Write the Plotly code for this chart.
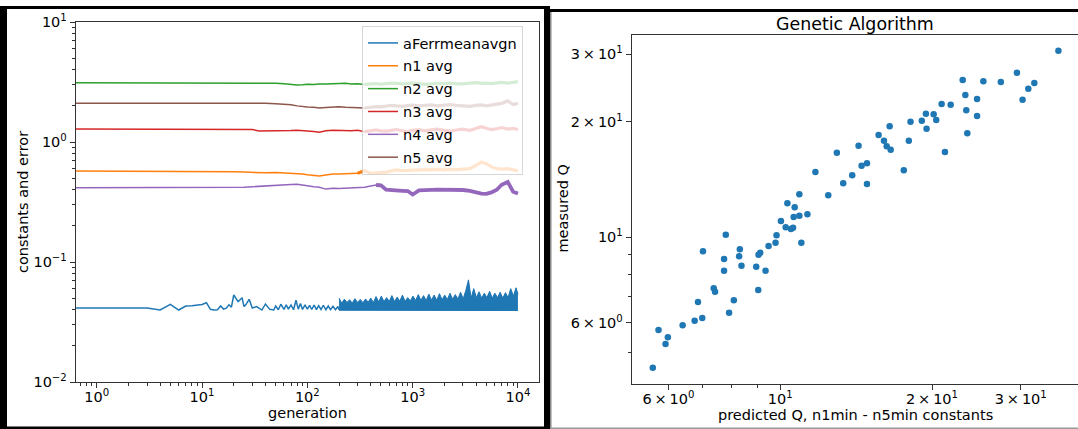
import plotly.graph_objects as go

# ---------------- left panel: constants and error vs generation ----------------
# generation 0 cannot sit on a log axis; 0.5 stands in for it (clipped at the left edge)
gen_err = [0.5, 1, 2, 3, 4, 5, 6, 7, 8, 9,
           10, 11, 12, 13, 14, 15, 16, 17, 18, 19, 20,
           22, 24, 25, 26, 28, 30, 33, 37, 40, 44, 48,
           50, 53, 56, 60, 63, 66, 70, 74, 78, 82, 86, 90, 95,
           100, 105, 110, 116, 122, 128, 135, 142, 150, 158, 166, 175, 185, 195, 200]
err_avg = [0.0414, 0.0414, 0.0414, 0.0414, 0.0398, 0.0444, 0.0398, 0.0430, 0.0432, 0.0435,
           0.0442, 0.0458, 0.0403, 0.0398, 0.0400, 0.0430, 0.0405, 0.0412, 0.0440, 0.0420, 0.0531,
           0.0467, 0.0504, 0.0425, 0.0440, 0.0489, 0.0414, 0.0425, 0.0398, 0.0447, 0.0403, 0.0398,
           0.0430, 0.0400, 0.0445, 0.0402, 0.0440, 0.0405, 0.0438, 0.0400, 0.0480, 0.0405, 0.0450, 0.0402, 0.0440,
           0.0404, 0.0436, 0.0402, 0.0438, 0.0401, 0.0432, 0.0402, 0.0436, 0.0400, 0.0430, 0.0401, 0.0428, 0.0400, 0.0426, 0.0400]

# dense noisy part of the error curve: lower and upper envelope of the band
gen_band = [200, 212, 225, 238, 252, 267, 283, 300, 318, 337,
            357, 378, 400, 424, 449, 476, 504, 534, 566, 600,
            635, 673, 713, 755, 800, 848, 898, 951, 1008, 1068,
            1131, 1198, 1270, 1345, 1425, 1510, 1600, 1695, 1796, 1903,
            2016, 2136, 2263, 2397, 2540, 2691, 2851, 3020, 3200, 3390,
            3592, 3805, 4032, 4271, 4525, 4794, 5079, 5381, 5701, 6040,
            6399, 6780, 7183, 7610, 8062, 8542, 9050, 9588, 10000]
err_hi = [0.0500, 0.0455, 0.0490, 0.0460, 0.0485, 0.0455, 0.0495, 0.0460, 0.0488, 0.0458,
          0.0492, 0.0462, 0.0500, 0.0460, 0.0515, 0.0465, 0.0520, 0.0468, 0.0505, 0.0470,
          0.0525, 0.0468, 0.0510, 0.0472, 0.0530, 0.0470, 0.0505, 0.0475, 0.0520, 0.0478,
          0.0535, 0.0480, 0.0525, 0.0478, 0.0540, 0.0482, 0.0530, 0.0480, 0.0545, 0.0485,
          0.0530, 0.0488, 0.0550, 0.0490, 0.0535, 0.0492, 0.0560, 0.0495, 0.0580, 0.0710,
          0.0500, 0.0600, 0.0505, 0.0565, 0.0500, 0.0550, 0.0505, 0.0570, 0.0500, 0.0550,
          0.0505, 0.0560, 0.0500, 0.0555, 0.0505, 0.0600, 0.0520, 0.0610, 0.0540]
gen_lo = [200, 1000, 3000, 10000]
err_lo = [0.0396, 0.0395, 0.0394, 0.0394]

gen_c = [0.5, 1, 3, 6, 10, 15, 20, 25, 30, 35,
         40, 50, 60, 70, 80, 90, 100, 115, 130, 150,
         175, 200, 230, 260, 300, 350, 400, 450, 500, 560,
         630, 700, 800, 900, 1000, 1150, 1300, 1500, 1700, 2000,
         2300, 2600, 3000, 3500, 4000, 4500, 5000, 5600, 6300, 7000,
         8000, 9000, 10000]
n1_avg = [0.573, 0.573, 0.573, 0.573, 0.573, 0.572, 0.566, 0.562, 0.558, 0.556,
          0.554, 0.556, 0.552, 0.550, 0.548, 0.540, 0.533, 0.524, 0.521, 0.530,
          0.541, 0.540, 0.545, 0.542, 0.548, 0.577, 0.548, 0.550, 0.552, 0.560,
          0.575, 0.585, 0.578, 0.582, 0.586, 0.583, 0.588, 0.585, 0.590, 0.586,
          0.592, 0.588, 0.595, 0.600, 0.640, 0.680, 0.660, 0.620, 0.600, 0.595,
          0.600, 0.585, 0.575]
n2_avg = [3.12, 3.12, 3.12, 3.12, 3.12, 3.12, 3.12, 3.12, 3.11, 3.10,
          3.11, 3.09, 3.06, 3.00, 2.98, 3.00, 3.03, 3.02, 3.05, 3.04,
          3.07, 3.06, 3.08, 3.05, 3.06, 3.02, 3.05, 3.07, 3.03, 3.06,
          3.10, 3.08, 3.05, 3.08, 3.10, 3.06, 3.02, 3.05, 3.08, 3.06,
          3.10, 3.07, 3.05, 3.09, 3.12, 3.08, 3.10, 3.06, 3.10, 3.14,
          3.10, 3.16, 3.18]
n3_avg = [1.283, 1.283, 1.283, 1.283, 1.283, 1.283, 1.283, 1.280, 1.270, 1.235,
          1.235, 1.230, 1.235, 1.245, 1.255, 1.250, 1.240, 1.225, 1.205, 1.240,
          1.250, 1.245, 1.255, 1.240, 1.250, 1.220, 1.250, 1.260, 1.240, 1.230,
          1.250, 1.270, 1.240, 1.220, 1.250, 1.270, 1.240, 1.260, 1.280, 1.250,
          1.230, 1.260, 1.280, 1.250, 1.300, 1.340, 1.300, 1.270, 1.290, 1.320,
          1.280, 1.300, 1.270]
n4_avg = [0.416, 0.416, 0.416, 0.416, 0.417, 0.417, 0.418, 0.419, 0.424, 0.428,
          0.432, 0.436, 0.439, 0.442, 0.444, 0.440, 0.432, 0.424, 0.420, 0.405,
          0.412, 0.410, 0.412, 0.418, 0.416, 0.420, 0.430, 0.438, 0.436, 0.400,
          0.395, 0.393, 0.392, 0.390, 0.365, 0.395, 0.400, 0.399, 0.401, 0.400,
          0.402, 0.400, 0.398, 0.392, 0.378, 0.372, 0.370, 0.380, 0.400, 0.440,
          0.465, 0.385, 0.372]
n5_avg = [2.10, 2.10, 2.10, 2.10, 2.10, 2.10, 2.10, 2.11, 2.12, 2.12,
          2.10, 2.08, 2.07, 2.04, 2.00, 1.97, 1.96, 1.95, 1.92, 1.94,
          1.96, 1.97, 1.95, 1.94, 1.95, 1.92, 1.95, 1.97, 1.96, 1.99,
          2.02, 2.00, 1.98, 2.01, 2.03, 2.00, 2.02, 2.04, 2.00, 2.02,
          2.05, 2.02, 2.00, 1.98, 2.02, 2.04, 2.00, 2.03, 2.06, 2.10,
          2.20, 2.05, 2.10]
series_names = ["n1 avg", "n2 avg", "n3 avg", "n4 avg", "n5 avg"]
# generation from which each average becomes a noisy (thick) band
noise_start = [300, 350, 350, 450, 350]

left_xticks = [1, 10, 100, 1000, 10000]
left_xtext = ["10<sup>0</sup>", "10<sup>1</sup>", "10<sup>2</sup>", "10<sup>3</sup>", "10<sup>4</sup>"]
left_yticks = [0.01, 0.1, 1, 10]
left_ytext = ["10<sup>\u22122</sup>", "10<sup>\u22121</sup>", "10<sup>0</sup>", "10<sup>1</sup>"]

# ---------------- right panel: measured vs predicted Q ----------------
pred_q = [5.585, 5.733, 5.920, 5.983, 6.401, 6.762, 6.866, 7.002, 7.025, 7.378,
          7.423, 7.735, 7.735, 7.796, 7.915, 8.088, 8.286, 8.313, 8.375, 8.959,
          9.042, 9.054, 9.125, 9.348, 9.478, 9.786, 9.831, 10.03, 10.25, 10.33,
          10.50, 10.60, 10.63, 10.68, 10.91, 11.01, 11.32, 10.91, 11.74, 12.45,
          12.95, 13.33, 13.89, 14.30, 14.50, 14.86, 14.86, 15.67, 16.06, 16.26,
          16.48, 16.56, 17.58, 17.99, 18.13, 19.09, 19.45, 19.51, 20.15, 20.39,
          20.90, 21.22, 21.78, 23.01, 23.29, 23.39, 23.50, 24.57, 24.57, 25.29,
          27.39, 29.48, 30.25, 31.05, 31.92, 35.63]
meas_q = [4.575, 5.736, 5.274, 5.491, 5.900, 6.065, 6.784, 6.164, 9.195, 7.366,
          7.217, 8.780, 8.185, 10.16, 6.363, 6.853, 8.924, 9.306, 8.435, 8.385,
          7.291, 9.010, 9.118, 8.185, 9.491, 9.681, 10.12, 11.03, 10.62, 12.26,
          10.51, 10.59, 11.29, 11.97, 11.38, 9.681, 11.48, 12.94, 14.79, 12.86,
          16.61, 13.82, 14.50, 17.32, 15.36, 15.59, 13.77, 18.47, 17.85, 17.26,
          19.46, 16.91, 14.94, 17.85, 20.00, 20.12, 20.99, 19.18, 20.91, 20.21,
          22.24, 16.68, 22.15, 25.68, 23.48, 21.42, 18.66, 22.92, 20.70, 25.48,
          25.37, 26.83, 22.82, 24.38, 25.23, 30.62]
right_ticks = [6, 10, 20, 30]
right_text = ["6\u2009\u00d7\u200910<sup>0</sup>", "10<sup>1</sup>",
              "2\u2009\u00d7\u200910<sup>1</sup>", "3\u2009\u00d7\u200910<sup>1</sup>"]

assert len(gen_err) == len(err_avg)
assert len(gen_band) == len(err_hi)
for s in (n1_avg, n2_avg, n3_avg, n4_avg, n5_avg):
    assert len(s) == len(gen_c)
assert len(pred_q) == len(meas_q)

# ---------------- styling ----------------
W, H = 1078, 429
FONT = "DejaVu Sans"
FS = 14.5
C = {"blue": "#1f77b4", "orange": "#ff7f0e", "green": "#2ca02c",
     "red": "#d62728", "purple": "#9467bd", "brown": "#8c564b"}
series_colors = [C["orange"], C["green"], C["red"], C["purple"], C["brown"]]
band_widths = [3.2, 3.2, 3.2, 3.8, 3.2]


def px_x(p):
    return p / W


def px_y(p):
    return 1 - p / H


fig = go.Figure()

# error curve
fig.add_trace(go.Scatter(x=gen_err, y=err_avg, mode="lines", name="aFerrmeanavgn",
                         legendgroup="g0", line=dict(color=C["blue"], width=1.5),
                         xaxis="x", yaxis="y"))
fig.add_trace(go.Scatter(x=gen_lo, y=err_lo, mode="lines", showlegend=False,
                         line=dict(color=C["blue"], width=1), xaxis="x", yaxis="y"))
fig.add_trace(go.Scatter(x=gen_band, y=err_hi, mode="lines", showlegend=False,
                         fill="tonexty", fillcolor=C["blue"],
                         line=dict(color=C["blue"], width=1), xaxis="x", yaxis="y"))

# constant averages
for i, (nm, vals, col) in enumerate(zip(series_names,
                                       [n1_avg, n2_avg, n3_avg, n4_avg, n5_avg],
                                       series_colors)):
    fig.add_trace(go.Scatter(x=gen_c, y=vals, mode="lines", name=nm,
                             legendgroup="g%d" % (i + 1),
                             line=dict(color=col, width=1.5), xaxis="x", yaxis="y"))
    k = gen_c.index(noise_start[i])
    fig.add_trace(go.Scatter(x=gen_c[k:], y=vals[k:], mode="lines",
                             showlegend=False, legendgroup="g%d" % (i + 1),
                             line=dict(color=col, width=band_widths[i]), xaxis="x", yaxis="y"))

# scatter
fig.add_trace(go.Scatter(x=pred_q, y=meas_q, mode="markers", showlegend=False,
                         marker=dict(color=C["blue"], size=6.5, line=dict(width=0)),
                         xaxis="x2", yaxis="y2"))


def minor_vals(lo_exp, hi_exp):
    out = []
    for e in range(lo_exp, hi_exp + 1):
        for m in range(2, 10):
            out.append(m * 10 ** e)
    return out


axis_common = dict(type="log", showgrid=False, zeroline=False, showline=True,
                   linecolor="#333", linewidth=1, ticks="outside", ticklen=5,
                   tickcolor="#333", tickwidth=1, automargin=False,
                   tickfont=dict(size=FS, color="#000", family=FONT))

fig.update_layout(
    template="none",
    width=W, height=H, margin=dict(l=0, r=0, t=0, b=0, pad=0, autoexpand=False),
    autosize=False,
    paper_bgcolor="white", plot_bgcolor="white",
    font=dict(family=FONT, color="#000", size=FS),
    xaxis=dict(axis_common, domain=[px_x(75.7), px_x(539)], range=[-0.2, 4.2],
               anchor="y", mirror=True, tickvals=left_xticks, ticktext=left_xtext,
               ticklabelstandoff=-3,
               minor=dict(ticks="outside", ticklen=3, tickcolor="#333",
                          tickvals=[v for v in minor_vals(-1, 3) if v > 0.6])),
    yaxis=dict(axis_common, domain=[px_y(382), px_y(22)], range=[-2, 1],
               anchor="x", mirror=True, tickvals=left_yticks, ticktext=left_ytext,
               minor=dict(ticks="outside", ticklen=3, tickcolor="#333",
                          tickvals=minor_vals(-2, 0))),
    xaxis2=dict(axis_common, domain=[px_x(631.7), 1.0], range=[0.7052, 1.5907],
                anchor="y2", mirror=True, tickvals=right_ticks, ticktext=right_text,
                ticklabelstandoff=-3,
                minor=dict(ticks="outside", ticklen=3, tickcolor="#333",
                           tickvals=[7, 8, 9])),
    yaxis2=dict(axis_common, domain=[px_y(383.7), px_y(34.7)], range=[0.6188, 1.5276],
                anchor="x2", mirror=False, tickvals=right_ticks, ticktext=right_text,
                minor=dict(ticks="outside", ticklen=3, tickcolor="#333",
                           tickvals=[5, 7, 8, 9])),
    legend=dict(x=px_x(362), y=px_y(26), xanchor="left", yanchor="top",
                bgcolor="rgba(255,255,255,0.8)", bordercolor="rgba(204,204,204,0.8)",
                borderwidth=1, font=dict(size=FS, color="#000", family=FONT),
                traceorder="grouped", tracegroupgap=1, itemwidth=30),
    showlegend=True,
)

ann = [
    dict(text="generation", x=px_x(307), y=px_y(413), font=dict(size=FS)),
    dict(text="constants and error", x=px_x(23), y=px_y(202), textangle=-90, font=dict(size=FS)),
    dict(text="measured Q", x=px_x(562.5), y=px_y(209), textangle=-90, font=dict(size=FS)),
    dict(text="predicted Q, n1min - n5min constants", x=px_x(855), y=px_y(415), font=dict(size=FS)),
    dict(text="Genetic Algorithm", x=px_x(855), y=px_y(24), font=dict(size=17.4)),
]
for a in ann:
    fig.add_annotation(xref="paper", yref="paper", showarrow=False,
                       xanchor="center", yanchor="middle", **a)


def rect(x0, y0, x1, y1, color):
    fig.add_shape(type="rect", xref="paper", yref="paper",
                  x0=px_x(x0), x1=px_x(x1), y0=px_y(y1), y1=px_y(y0),
                  fillcolor=color, line=dict(width=0), layer="above")


# panel frames
rect(0, 6, 7, 429, "black")
rect(0, 6, 550, 9, "black")
rect(544, 6, 550, 429, "black")
rect(0, 426.5, 550, 429, "black")
rect(549, 9, 1078, 12, "black")
rect(550, 12, 551.5, 429, "#888888")
rect(550, 427.5, 1078, 429, "#999999")

fig.write_html("out.html", config={"displayModeBar": False},
               post_script="document.body.style.margin='0';"
                           "document.body.style.overflow='hidden';")
